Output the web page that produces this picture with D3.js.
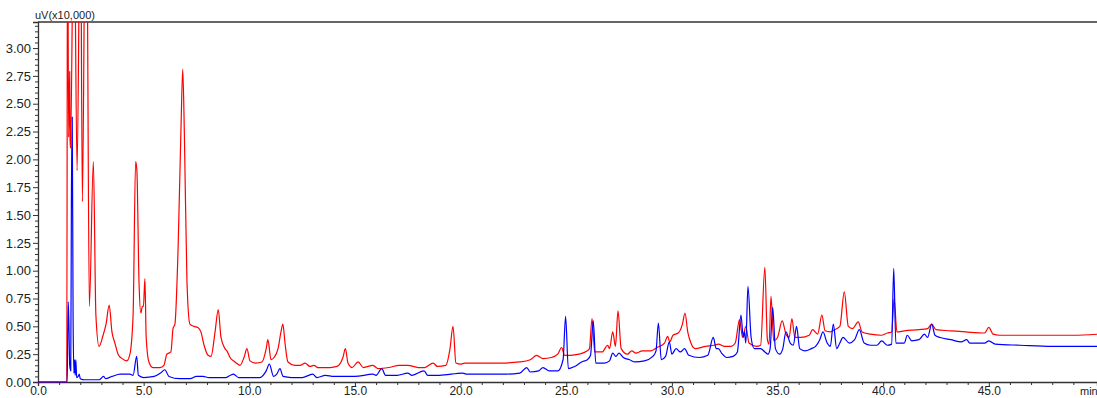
<!DOCTYPE html>
<html><head><meta charset="utf-8">
<script src="https://cdn.jsdelivr.net/npm/d3@7"></script>
<style>body{margin:0;background:#fff}svg{display:block}text{font-family:"Liberation Sans",Arial,sans-serif}</style>
</head><body><div id="chart"></div>
<script>
// retention time (min) and signal (uV x10,000)
const redTime = [0,1.36,1.40,1.45,1.50,1.52,1.54,1.70,1.85,2.01,2.10,2.25,2.32,2.43,2.62,2.74,2.89,3.08,3.22,3.37,3.50,3.64,3.79,3.98,4.20,4.35,4.50,4.62,4.68,4.78,4.87,4.94,4.99,5.06,5.12,5.25,5.44,5.77,5.96,6.10,6.29,6.39,6.48,6.63,6.77,6.85,6.93,7.05,7.19,7.38,7.57,7.71,7.86,8.05,8.19,8.38,8.53,8.66,8.85,8.94,9.09,9.32,9.56,9.75,9.89,10.03,10.3,10.6,10.8,10.88,11.03,11.17,11.36,11.5,11.59,11.69,11.83,12.16,12.4,12.64,12.87,13.06,13.25,13.82,14.15,14.43,14.55,14.67,14.86,15.15,15.4,15.85,16.1,16.6,17.1,17.5,18.0,18.3,18.7,18.9,19.3,19.5,19.64,19.78,20.0,20.2,20.7,21.9,22.8,23.3,23.6,23.9,24.3,24.6,24.78,24.92,25.2,25.6,26.0,26.1,26.22,26.35,26.7,26.96,27.05,27.2,27.33,27.45,27.6,27.9,28.1,28.3,28.6,29.0,29.3,29.65,29.8,29.9,30.05,30.3,30.5,30.62,30.75,30.9,31.1,31.6,32.0,32.2,32.5,32.8,33.0,33.2,33.35,33.5,33.65,34.0,34.2,34.4,34.52,34.6,34.69,34.82,35.0,35.22,35.4,35.55,35.68,35.82,36.1,36.5,36.66,36.9,37.1,37.25,37.5,37.7,37.95,38.16,38.35,38.55,38.82,39.0,39.4,39.9,40.2,40.4,40.52,40.65,41.0,41.7,42.1,42.3,42.5,43.2,43.9,44.8,45.0,45.2,45.5,47.0,49.0,50.2];
const redValue = [0,0,4.5,2.2,2.79,2.17,2.1,4.5,1.9,4.5,1.62,4.5,4.0,0.68,1.98,0.6,0.32,0.42,0.52,0.69,0.45,0.35,0.25,0.21,0.19,0.25,0.6,1.98,1.9,0.9,0.62,0.68,0.68,0.93,0.4,0.18,0.13,0.13,0.15,0.25,0.27,0.48,0.52,1.2,2.3,2.81,2.2,0.9,0.52,0.5,0.49,0.45,0.33,0.24,0.23,0.45,0.65,0.4,0.3,0.28,0.22,0.18,0.15,0.22,0.30,0.19,0.17,0.18,0.3,0.38,0.2,0.22,0.3,0.45,0.52,0.35,0.18,0.15,0.15,0.17,0.14,0.15,0.13,0.13,0.14,0.22,0.30,0.17,0.13,0.18,0.13,0.15,0.12,0.13,0.15,0.15,0.13,0.13,0.17,0.14,0.15,0.3,0.5,0.17,0.16,0.17,0.17,0.17,0.18,0.2,0.24,0.21,0.22,0.25,0.31,0.24,0.24,0.25,0.28,0.3,0.57,0.27,0.27,0.33,0.3,0.45,0.32,0.64,0.3,0.25,0.28,0.26,0.28,0.28,0.31,0.35,0.41,0.36,0.42,0.44,0.52,0.62,0.45,0.35,0.3,0.32,0.33,0.34,0.32,0.32,0.35,0.56,0.4,0.5,0.35,0.32,0.33,1.03,0.38,0.34,0.77,0.37,0.4,0.55,0.43,0.4,0.57,0.4,0.4,0.42,0.47,0.43,0.6,0.46,0.45,0.47,0.5,0.81,0.5,0.48,0.54,0.45,0.43,0.42,0.44,0.45,0.75,0.45,0.46,0.47,0.48,0.52,0.47,0.46,0.45,0.44,0.49,0.43,0.42,0.42,0.42,0.43];
const blueTime = [0,1.38,1.40,1.43,1.46,1.50,1.55,1.58,1.62,1.66,1.70,1.73,1.76,1.79,1.83,1.90,1.95,2.0,2.2,2.9,3.1,3.2,3.5,3.9,4.35,4.5,4.67,4.75,5.0,5.5,5.8,6.0,6.2,6.7,7.2,7.5,7.8,8.1,8.9,9.1,9.25,9.5,10.5,10.8,10.95,11.15,11.3,11.45,11.6,12.0,12.5,13.0,13.2,13.6,14.0,15.0,15.85,16.0,16.27,16.45,17.0,17.5,17.7,18.27,18.45,19.0,20.1,20.3,21.0,22.0,22.8,23.13,23.3,23.7,23.9,24.2,24.6,24.85,24.97,25.1,25.4,25.73,26.0,26.15,26.28,26.4,26.8,27.05,27.2,27.35,27.5,27.7,28.0,28.25,28.7,29.1,29.25,29.36,29.5,29.7,29.88,30.0,30.2,30.4,30.6,30.8,31.3,31.7,31.96,32.1,32.2,32.35,32.6,32.9,33.1,33.27,33.38,33.43,33.5,33.6,33.75,33.9,34.2,34.4,34.55,34.65,34.77,34.9,35.1,35.25,35.4,35.6,35.75,35.9,36.05,36.3,36.6,36.8,37.0,37.15,37.35,37.5,37.64,37.8,37.95,38.1,38.4,38.65,38.87,39.1,39.4,39.7,39.93,40.2,40.4,40.5,40.6,41.0,41.14,41.35,41.7,41.95,42.1,42.3,42.45,42.7,43.2,43.7,43.95,44.1,44.8,45.0,45.3,46.5,48.0,50.2];
const blueValue = [0,0,0.3,0.72,0.55,0.15,0.1,1.6,2.38,0.6,0.08,0.2,0.06,0.2,0.04,0.05,0.07,0.03,0.02,0.02,0.05,0.03,0.05,0.07,0.07,0.06,0.23,0.06,0.04,0.05,0.08,0.11,0.05,0.03,0.03,0.05,0.05,0.04,0.04,0.06,0.07,0.04,0.04,0.1,0.16,0.05,0.07,0.12,0.05,0.04,0.04,0.07,0.04,0.06,0.05,0.05,0.07,0.06,0.12,0.06,0.06,0.08,0.06,0.1,0.06,0.06,0.08,0.07,0.07,0.07,0.08,0.13,0.09,0.1,0.13,0.1,0.1,0.2,0.59,0.12,0.14,0.18,0.2,0.24,0.55,0.17,0.17,0.19,0.26,0.23,0.26,0.22,0.2,0.18,0.19,0.23,0.28,0.53,0.2,0.23,0.36,0.25,0.3,0.27,0.3,0.24,0.22,0.24,0.4,0.3,0.3,0.26,0.22,0.23,0.27,0.6,0.4,0.45,0.35,0.86,0.4,0.3,0.3,0.27,0.25,0.3,0.67,0.3,0.25,0.3,0.45,0.35,0.33,0.5,0.3,0.28,0.3,0.32,0.38,0.45,0.35,0.32,0.52,0.3,0.35,0.4,0.35,0.38,0.47,0.35,0.33,0.33,0.37,0.33,0.34,1.02,0.35,0.35,0.42,0.37,0.38,0.43,0.4,0.52,0.42,0.4,0.38,0.36,0.38,0.35,0.35,0.37,0.34,0.33,0.32,0.32];
const xTickLabels = ["0.0","5.0","10.0","15.0","20.0","25.0","30.0","35.0","40.0","45.0"];
const yTickLabels = ["0.00","0.25","0.50","0.75","1.00","1.25","1.50","1.75","2.00","2.25","2.50","2.75","3.00"];
const yUnit = "uV(x10,000)";
const xUnit = "min";

const W = 1097, H = 398;
const L = 38, T = 22, R = 1097, B = 382;
const svg = d3.select("#chart").append("svg").attr("width", W).attr("height", H);
const x = d3.scaleLinear().domain([0, 50.12]).range([L, R]);
const y = d3.scaleLinear().domain([0, 3.234]).range([B, T]);

svg.append("defs").append("clipPath").attr("id","clip")
  .append("rect").attr("x", L).attr("y", T).attr("width", R - L).attr("height", B - T + 1);

// axes
const xMajor = xTickLabels.map(Number);
const xAxis = d3.axisBottom(x).tickValues(xMajor).tickFormat((d,i)=>xTickLabels[i]).tickSize(4).tickPadding(0);
const xMinor = d3.axisBottom(x).tickValues(d3.range(0, 51, 1).filter(v=>v%5!==0)).tickFormat("").tickSize(3);
const yMajor = yTickLabels.map(Number);
const yAxis = d3.axisLeft(y).tickValues(yMajor).tickFormat((d,i)=>yTickLabels[i]).tickSize(5).tickPadding(2);
const yMinor = d3.axisLeft(y).tickValues(d3.range(0, 65, 1).map(v=>v*0.05).filter(v=>v<=3.23 && Math.round(v*100)%25!==0)).tickFormat("").tickSize(3);

function styleAxis(g, size){
  g.select(".domain").attr("stroke","#333").attr("stroke-width",1.3);
  g.selectAll(".tick line").attr("stroke","#333");
  g.selectAll(".tick text").attr("fill","#222").style("font-size", size);
}
svg.append("g").attr("transform",`translate(0,${B})`).call(xMinor).call(g=>{g.select(".domain").remove();g.selectAll("line").attr("stroke","#333");});
svg.append("g").attr("transform",`translate(0,${B})`).call(xAxis).call(g=>styleAxis(g,"12px"));
svg.append("g").attr("transform",`translate(${L},0)`).call(yMinor).call(g=>{g.select(".domain").remove();g.selectAll("line").attr("stroke","#333");});
svg.append("g").attr("transform",`translate(${L},0)`).call(yAxis).call(g=>styleAxis(g,"13px"));
svg.append("line").attr("x1",L).attr("x2",R).attr("y1",T).attr("y2",T).attr("stroke","#333").attr("stroke-width",1.3);

svg.append("text").attr("x", L - 3).attr("y", T - 3).text(yUnit).attr("fill","#222").style("font-size","11px");
svg.append("text").attr("x", 1080).attr("y", H - 3).text(xUnit).attr("fill","#222").style("font-size","11px");

const line = d3.line().x(d=>x(d[0])).y(d=>y(d[1])).curve(d3.curveMonotoneX);
const redData = redTime.map((t,i)=>[t, redValue[i]]);
const blueData = blueTime.map((t,i)=>[t, blueValue[i]]);
const plot = svg.append("g").attr("clip-path","url(#clip)");
plot.append("path").datum(redData).attr("d", line).attr("fill","none").attr("stroke","#ff0000").attr("stroke-width",1.2).attr("stroke-linejoin","round");
plot.append("path").datum(blueData).attr("d", line).attr("fill","none").attr("stroke","#0000ff").attr("stroke-width",1.2).attr("stroke-linejoin","round");
</script></body></html>
